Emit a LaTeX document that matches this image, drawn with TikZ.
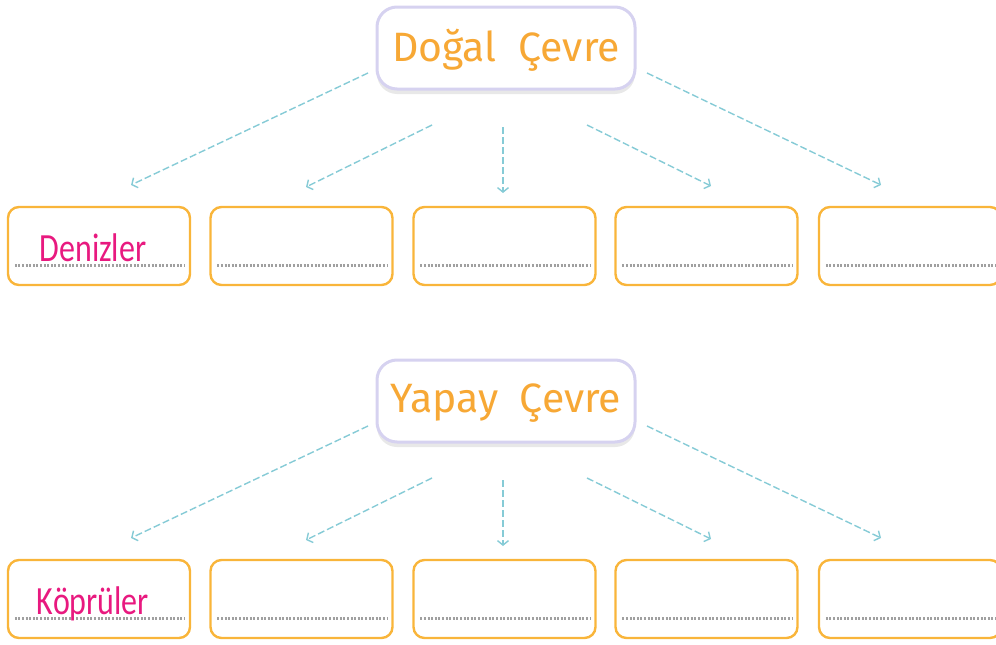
\documentclass[tikz,border=0pt]{standalone}
\usepackage{fontspec}
\setmainfont{Lato}
\newfontfamily\titlefont{Fira Sans}
\newfontfamily\labelfont{Carlito}
\usetikzlibrary{arrows.meta,shadows}
\definecolor{lav}{HTML}{D6D2F0}
\definecolor{ttl}{HTML}{F7A835}
\definecolor{boxc}{HTML}{F9B53A}
\definecolor{pinkc}{HTML}{E8197F}
\definecolor{arrc}{HTML}{86CBD6}
\definecolor{dotc}{HTML}{A0A0A0}
\tikzset{
  titlebox/.style={draw=lav, line width=3pt, fill=white, rounded corners=20pt,
    minimum width=258pt, minimum height=82pt, inner sep=0pt,
    drop shadow={opacity=0.18, shadow xshift=0pt, shadow yshift=-5pt}},
  titletext/.style={text=ttl, font=\titlefont\fontsize{41}{41}\selectfont},
  leafbox/.style={draw=boxc, line width=2.4pt, rounded corners=11pt,
    minimum width=182pt, minimum height=78pt, inner sep=0pt},
  leaftext/.style={text=pinkc, inner sep=0pt, anchor=base,
    font=\labelfont\fontsize{40}{40}\selectfont},
  dotline/.style={draw=dotc, line width=3pt, dash pattern=on 2pt off 1.6pt},
  conn/.style={draw=arrc, line width=1.4pt, dash pattern=on 7pt off 3pt,
    -{Straight Barb[length=4.5pt,width=11pt]}}
}
\begin{document}
\begin{tikzpicture}[x=1pt,y=-1pt]
\useasboundingbox (0,0) rectangle (996,645);
\foreach \r/\dy/\ttl/\lbl in {1/0/{Doğal~~Çevre}/Denizler, 2/353/{Yapay~~Çevre}/Köprüler}{
  \node[titlebox] (t\r) at (506,48+\dy) {};
  \node[titletext] (tt\r) at (506,50+\dy) {\ttl};
  \foreach \i/\cx in {1/99,2/301.5,3/504.5,4/706.5,5/910}{
    \node[leafbox] (b\r\i) at (\cx,246+\dy) {};
    \draw[dotline] ([xshift=8pt,yshift=-19pt]b\r\i.west) -- ([xshift=-6pt,yshift=-19pt]b\r\i.east);
  }
  \node[leaftext] (l\r) at (93,261+\dy) {\scalebox{0.8}[1]{\lbl}};
  \coordinate (s\r1) at (368,73+\dy);
  \coordinate (s\r2) at (432,125+\dy);
  \coordinate (s\r3) at (503,127+\dy);
  \coordinate (s\r4) at (587,125+\dy);
  \coordinate (s\r5) at (647,73+\dy);
  \coordinate (e\r1) at (131,185+\dy);
  \coordinate (e\r2) at (306,187+\dy);
  \coordinate (e\r3) at (503,193+\dy);
  \coordinate (e\r4) at (711,186+\dy);
  \coordinate (e\r5) at (881,185+\dy);
  \foreach \k in {1,...,5}{ \draw[conn] (s\r\k) -- (e\r\k); }
}
\end{tikzpicture}
\end{document}
